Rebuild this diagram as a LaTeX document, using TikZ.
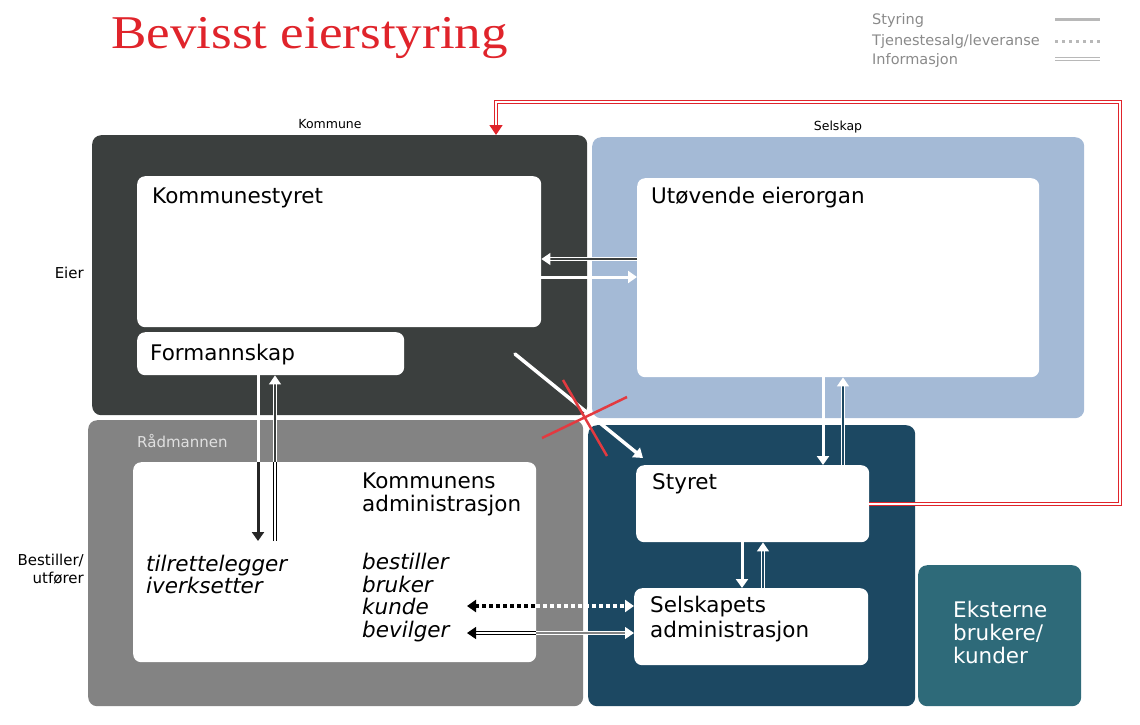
\documentclass[tikz,border=0pt]{standalone}
\usepackage{fontspec}
\newfontfamily\dv{DejaVu Sans}
\newfontfamily\tserif[FakeStretch=1.13]{Liberation Serif}
\usetikzlibrary{arrows.meta,calc}
\definecolor{kdark}{HTML}{3B3F3E}
\definecolor{sblue}{HTML}{A4BAD6}
\definecolor{rgray}{HTML}{838383}
\definecolor{steal}{HTML}{1C4862}
\definecolor{eteal}{HTML}{2E6A79}
\definecolor{tred}{HTML}{E0242B}
\definecolor{lgtxt}{HTML}{8A8A8A}
\definecolor{legline}{HTML}{B8B8B8}
\begin{document}
\begin{tikzpicture}[x=1pt,y=-1pt,
  region/.style={rounded corners=9pt, inner sep=0pt, anchor=north west, draw=none},
  wbox/.style={fill=white, rounded corners=8pt, inner sep=0pt, anchor=north west, draw=none},
  big/.style={anchor=base west, inner sep=0pt, font=\dv\fontsize{21.5}{24}\selectfont},
  bigit/.style={anchor=base west, inner sep=0pt, font=\dv\itshape\fontsize{21.5}{24}\selectfont},
  small/.style={inner sep=0pt, font=\dv\fontsize{12.5}{17}\selectfont},
  side/.style={inner sep=0pt, font=\dv\fontsize{15}{18}\selectfont},
  legtxt/.style={anchor=base west, inner sep=0pt, font=\dv\fontsize{14.5}{16}\selectfont, text=lgtxt},
  sty/.style={line width=3pt, draw=white},
  info/.style={line width=1.2pt, draw=white, double distance=1.3pt},
  tj/.style={line width=4pt, dash pattern=on 4pt off 3pt},
  tip/.style={-{Triangle[length=9pt,width=12pt]}},
  rtip/.style={{Triangle[length=9pt,width=12pt]}-},
  redline/.style={draw=tred, line width=1.4pt, double=white, double distance=2pt}]
\useasboundingbox (0,0) rectangle (1140,724);

% title
\node[anchor=base west, inner sep=0pt, text=tred, font=\tserif\fontsize{47}{52}\selectfont] (title) at (111,48) {Bevisst eierstyring};

% legend
\node[legtxt] (l1) at (872,24) {Styring};
\node[legtxt] (l2) at (872,45) {Tjenestesalg/leveranse};
\node[legtxt] (l3) at (872,64) {Informasjon};
\coordinate (l1a) at (1055,19); \coordinate (l1b) at (1100,19);
\coordinate (l2a) at (1055,41); \coordinate (l2b) at (1100,41);
\coordinate (l3a) at (1055,59); \coordinate (l3b) at (1100,59);
\draw[line width=3pt, draw=legline] (l1a) -- (l1b);
\draw[line width=3pt, draw=legline, dash pattern=on 3pt off 4pt] (l2a) -- (l2b);
\draw[line width=0.8pt, draw=legline, double=white, double distance=1.5pt] (l3a) -- (l3b);

% regions
\node[region, fill=kdark, minimum width=495pt, minimum height=280pt] (kom) at (92,135) {};
\node[region, fill=sblue, minimum width=492pt, minimum height=281pt] (sel) at (592,137) {};
\node[region, fill=rgray, minimum width=495pt, minimum height=286pt] (rad) at (88,420) {};
\node[region, fill=steal, minimum width=327pt, minimum height=281pt] (sty) at (588,425) {};
\node[region, fill=eteal, minimum width=163pt, minimum height=141pt] (eks) at (918,565) {};

% white boxes
\node[wbox, minimum width=404pt, minimum height=151pt] (ks) at (137,176) {};
\node[wbox, minimum width=267pt, minimum height=43pt] (fm) at (137,332) {};
\node[wbox, minimum width=402pt, minimum height=199pt] (ue) at (637,178) {};
\node[wbox, minimum width=403pt, minimum height=200pt] (adm) at (133,462) {};
\node[wbox, minimum width=233pt, minimum height=77pt] (st) at (636,465) {};
\node[wbox, minimum width=234pt, minimum height=77pt] (sa) at (634,588) {};

% outside labels
\node[small, anchor=base] (kl) at (330,128) {Kommune};
\node[small, anchor=base] (sl) at (838,130) {Selskap};
\node[side, anchor=base east] (eier) at (84,278) {Eier};
\node[side, anchor=base east] (bu1) at (84,565) {Bestiller/};
\node[side, anchor=base east] (bu2) at (84,583) {utfører};

% box labels
\node[big] (t1) at (152,203) {Kommunestyret};
\node[big] (t2) at (150,360) {Formannskap};
\node[big] (t3) at (651,203) {Utøvende eierorgan};
\node[anchor=base west, inner sep=0pt, font=\dv\fontsize{15}{18}\selectfont, text=white!88!black] (t4) at (137,447) {Rådmannen};
\node[big] (t5a) at (362,488) {Kommunens};
\node[big] (t5b) at (362,511) {administrasjon};
\node[bigit] (t6a) at (146,571) {tilrettelegger};
\node[bigit] (t6b) at (146,593) {iverksetter};
\node[bigit] (t7a) at (362,569) {bestiller};
\node[bigit] (t7b) at (362,592) {bruker};
\node[bigit] (t7c) at (362,614) {kunde};
\node[bigit] (t7d) at (362,637) {bevilger};
\node[big] (t8) at (652,489) {Styret};
\node[big] (t9a) at (650,612) {Selskapets};
\node[big] (t9b) at (650,637) {administrasjon};
\node[big, text=white] (t10a) at (953,617) {Eksterne};
\node[big, text=white] (t10b) at (953,640) {brukere/};
\node[big, text=white] (t10c) at (953,663) {kunder};

% arrows Kommunestyret <-> Utøvende
\draw[info, double=kdark, tip] (ue.west |- 0,259) -- (ks.east |- 0,259);
\draw[sty, tip] (ks.east |- 0,277) -- (ue.west |- 0,277);

% diagonal and red cross
\coordinate (dstart) at (515,354);
\coordinate (dend) at (643,458);
\draw[sty, line width=3.5pt, tip, line cap=round] (dstart) -- (dend);
\coordinate (x1a) at (563,380); \coordinate (x1b) at (607,456);
\coordinate (x2a) at (627,397); \coordinate (x2b) at (542,438);
\draw[draw=tred!90!white, line width=2.5pt] (x1a) -- (x1b);
\draw[draw=tred!90!white, line width=2.5pt] (x2a) -- (x2b);

% Formannskap <-> administrasjon
\coordinate (fmA) at (258,541);
\coordinate (fmB) at (275,541);
\draw[sty] (fm.south -| 258,0) -- (adm.north -| 258,0);
\draw[sty, draw=black!85, tip] (adm.north -| 258,0) -- (fmA);
\draw[info, draw=black, double=white] (fmB) -- (adm.north -| 275,0);
\draw[info, double=kdark, tip] (adm.north -| 275,0) -- (fm.south -| 275,0);

% Utøvende <-> Styret
\draw[sty, tip] (ue.south -| 823,0) -- (st.north -| 823,0);
\draw[info, double=steal, tip] (st.north -| 843,0) -- (ue.south -| 843,0);

% Styret <-> Selskapets administrasjon
\draw[sty, tip] (st.south -| 742,0) -- (sa.north -| 742,0);
\draw[info, double=steal, tip] (sa.north -| 763,0) -- (st.south -| 763,0);

% bottom arrows
\coordinate (d1) at (467,606);
\coordinate (d2) at (467,633);
\draw[tj, draw=black, rtip] (d1) -- (adm.east |- 0,606);
\draw[tj, draw=white, tip] (adm.east |- 0,606) -- (sa.west |- 0,606);
\draw[info, draw=black, double=white, rtip] (d2) -- (adm.east |- 0,633);
\draw[info, double=rgray, tip] (adm.east |- 0,633) -- (sa.west |- 0,633);

% red feedback line
\coordinate (r1) at (1120,504);
\coordinate (r2) at (1120,102);
\coordinate (r3) at (496,102);
\draw[redline, -{Triangle[length=10pt,width=13pt]}] (st.east |- r1) -- (r1) -- (r2) -- (r3) -- (kom.north -| r3);
\end{tikzpicture}
\end{document}
